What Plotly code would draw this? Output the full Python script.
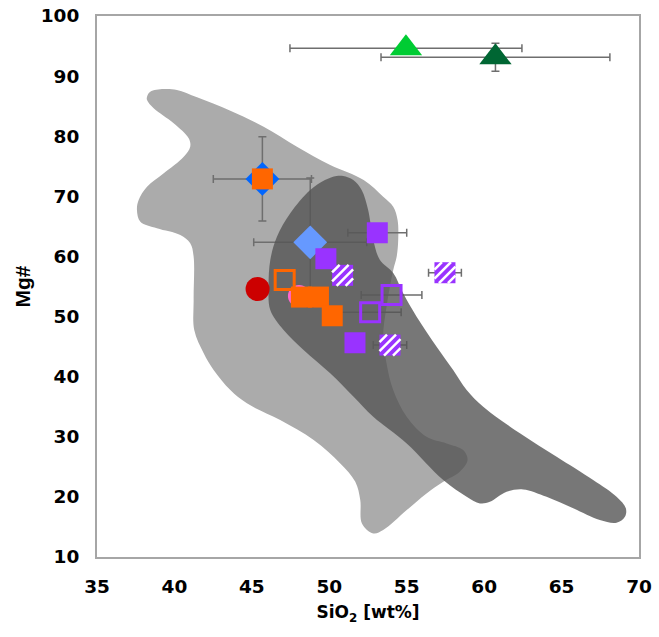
import plotly.graph_objects as go

# ---------------- data ----------------
# Field outlines (SiO2, Mg#)
fieldA_x = [38.23, 38.44, 39.31, 40.16, 41.46, 43.61, 45.76, 47.91, 50.06, 52.22, 53.48, 54.13,
            54.41, 54.45, 54.35, 54.13, 53.70, 53.48, 53.70, 54.13, 55.00, 56.28, 57.58, 58.65,
            58.93, 58.43, 57.36, 56.28, 55.00, 53.48, 52.84, 52.11, 52.00, 51.68, 50.71, 48.99,
            46.83, 44.68, 43.61, 42.53, 41.89, 41.28, 41.24, 41.24, 41.02, 40.38, 38.87, 37.80,
            37.58, 37.69, 38.23, 39.31, 40.60, 41.02, 40.92, 39.95, 38.66, 38.23]
fieldA_y = [86.57, 87.40, 87.85, 87.69, 86.47, 84.24, 81.58, 78.25, 75.21, 72.71, 69.93, 68.27,
            66.06, 62.73, 59.95, 57.74, 51.63, 46.64, 42.21, 37.77, 33.33, 30.00, 28.90, 27.79,
            26.12, 24.18, 22.51, 20.58, 17.80, 14.48, 13.93, 15.59, 19.47, 22.51, 25.57, 29.45,
            32.78, 35.56, 37.77, 41.10, 43.88, 47.75, 52.75, 59.95, 62.18, 63.56, 64.68, 65.77,
            67.72, 69.38, 71.60, 73.83, 76.59, 78.25, 79.65, 82.15, 84.64, 86.02]

fieldB_x = [50.47, 50.90, 51.55, 52.09, 52.51, 52.84, 53.27, 54.13, 54.77, 55.64, 56.93, 58.00,
            58.87, 59.94, 62.31, 64.68, 67.04, 68.55, 69.15, 69.09, 68.55, 67.47, 65.75, 64.03,
            62.52, 61.45, 60.37, 59.73, 58.87, 57.36, 55.00, 52.84, 51.57, 50.06, 48.34, 47.05,
            46.19, 46.08, 46.19, 46.62, 47.48, 48.77, 49.72]
fieldB_y = [73.38, 73.38, 72.71, 71.05, 67.72, 62.73, 59.40, 57.24, 53.86, 49.97, 44.98, 41.10,
            37.77, 34.99, 30.57, 26.67, 22.80, 20.02, 18.09, 16.69, 15.69, 16.14, 18.09, 20.02,
            21.25, 20.85, 19.18, 18.92, 20.02, 22.80, 28.90, 33.33, 36.66, 40.55, 44.43, 47.75,
            51.08, 54.96, 59.40, 63.28, 67.17, 71.05, 72.71]

# Samples
lgreen_x, lgreen_y, lgreen_ex = [54.95], [94.63], [7.49]
dgreen_x, dgreen_y, dgreen_ex, dgreen_ey = [60.73], [93.13], [7.39], [2.33]
blue_x, blue_y = [45.68], [72.9]
lblue_x, lblue_y, lblue_ex, lblue_ey = [48.77], [62.35], [3.65], [10.7]
pink_x, pink_y = [48.04], [53.41]
red_x, red_y = [45.37], [54.58]
orange_x = [45.68, 48.20, 49.30, 50.19]
orange_y = [72.9, 53.24, 53.24, 50.13]
orange_ex = [3.17, None, None, None]
orange_ey = [7.0, None, None, None]
orangeopen_x, orangeopen_y = [47.12], [56.07]
purple_x = [53.10, 49.78, 51.66]
purple_y = [63.94, 59.62, 45.64]
purple_ex = [1.9, None, None]
purpleopen_x = [54.02, 52.64]
purpleopen_y = [53.58, 50.70]
purpleopen_ex = [1.96, 2.0]
hatch_x = [50.86, 57.47, 53.92]
hatch_y = [56.86, 57.29, 45.26]
hatch_ex = [None, 1.06, 1.08]

x_ticks = [35, 40, 45, 50, 55, 60, 65, 70]
y_ticks = [10, 20, 30, 40, 50, 60, 70, 80, 90, 100]

# ---------------- style ----------------
ERR_COLOR = "#6E6E6E"
C_LGREEN = "#00CC33"
C_DGREEN = "#006633"
C_BLUE = "#0066FF"
C_LBLUE = "#6699FF"
C_PINK = "#FF66CC"
C_RED = "#CC0000"
C_ORANGE = "#FF6600"
C_PURPLE = "#9933FF"

fig = go.Figure()

# light grey field (bottom layer)
fig.add_trace(go.Scatter(x=fieldA_x + fieldA_x[:1], y=fieldA_y + fieldA_y[:1], mode="lines",
                         line=dict(width=0, shape="spline", smoothing=1.0),
                         fill="toself", fillcolor="#ABABAB", hoverinfo="skip", showlegend=False))


def err_trace(x, y, ex=None, ey=None):
    kw = {}
    if ex is not None:
        kw["error_x"] = dict(type="data", array=ex, visible=True, color=ERR_COLOR, thickness=1.5, width=4)
    if ey is not None:
        kw["error_y"] = dict(type="data", array=ey, visible=True, color=ERR_COLOR, thickness=1.5, width=4)
    return go.Scatter(x=x, y=y, mode="markers", marker=dict(size=1, color="rgba(0,0,0,0)"),
                      hoverinfo="skip", showlegend=False, **kw)


# error bars (under the dark translucent field)
fig.add_trace(err_trace(lgreen_x, lgreen_y, lgreen_ex, None))
fig.add_trace(err_trace(dgreen_x, dgreen_y, dgreen_ex, dgreen_ey))
fig.add_trace(err_trace(lblue_x, lblue_y, lblue_ex, lblue_ey))
fig.add_trace(err_trace(orange_x, orange_y, orange_ex, orange_ey))
fig.add_trace(err_trace(purple_x, purple_y, purple_ex, None))
fig.add_trace(err_trace(purpleopen_x, purpleopen_y, purpleopen_ex, None))
fig.add_trace(err_trace(hatch_x, hatch_y, hatch_ex, None))

# dark translucent field
fig.add_trace(go.Scatter(x=fieldB_x + fieldB_x[:1], y=fieldB_y + fieldB_y[:1], mode="lines",
                         line=dict(width=0, shape="spline", smoothing=1.0),
                         fill="toself", fillcolor="rgba(85,85,85,0.8)", hoverinfo="skip", showlegend=False))


def mk(x, y, symbol, size, color, lw=0, lcolor=None):
    return go.Scatter(x=x, y=y, mode="markers",
                      marker=dict(symbol=symbol, size=size, color=color,
                                  line=dict(width=lw, color=lcolor if lcolor else color)),
                      showlegend=False)


fig.add_trace(mk(lgreen_x, lgreen_y, "triangle-up", 28, C_LGREEN))
fig.add_trace(mk(dgreen_x, dgreen_y, "triangle-up", 28, C_DGREEN))
fig.add_trace(mk(blue_x, blue_y, "diamond", 26, C_BLUE))
fig.add_trace(mk(lblue_x, lblue_y, "diamond", 26, C_LBLUE))
fig.add_trace(mk(pink_x, pink_y, "circle", 22, C_PINK))
fig.add_trace(mk(red_x, red_y, "circle", 24, C_RED))
fig.add_trace(mk(orange_x, orange_y, "square", 21, C_ORANGE))
fig.add_trace(mk(orangeopen_x, orangeopen_y, "square-open", 19, C_ORANGE, lw=3))
fig.add_trace(mk(purple_x, purple_y, "square", 21, C_PURPLE))
fig.add_trace(mk(purpleopen_x, purpleopen_y, "square-open", 19, C_PURPLE, lw=3))
fig.add_trace(mk(hatch_x, hatch_y, "square", 21, C_PURPLE))

# white diagonal hatching on the hatched squares (pixel offsets anchored at the data point)
h = 10.5
shapes = []
for hx, hy in zip(hatch_x, hatch_y):
    for c in (-13.5, -4.5, 4.5, 13.5):
        if c >= 0:
            p0, p1 = (-h, -h + c), (h - c, h)
        else:
            p0, p1 = (-h - c, -h), (h, h + c)
        shapes.append(dict(type="line", xref="x", yref="y", xsizemode="pixel", ysizemode="pixel",
                           xanchor=hx, yanchor=hy, x0=p0[0], y0=p0[1], x1=p1[0], y1=p1[1],
                           line=dict(color="white", width=2.5)))

tick_font = dict(family="DejaVu Sans", size=18.5, color="black")

fig.update_layout(
    width=659, height=637,
    margin=dict(l=97, r=20, t=16, b=80, autoexpand=False),
    paper_bgcolor="white", plot_bgcolor="white",
    shapes=shapes,
    xaxis=dict(range=[35, 70], tickvals=x_ticks, ticktext=[f"<b>{v}</b>" for v in x_ticks],
               showgrid=False, zeroline=False, automargin=False,
               showline=True, mirror=True, linecolor="#A6A6A6", linewidth=2,
               ticks="", ticklabelstandoff=12, tickfont=tick_font,
               title=dict(text="<b>SiO<sub>2</sub> [wt%]</b>", standoff=10,
                          font=dict(family="DejaVu Sans", size=17, color="black"))),
    yaxis=dict(range=[10, 100], tickvals=y_ticks, ticktext=[f"<b>{v}</b>" for v in y_ticks],
               showgrid=False, zeroline=False, automargin=False,
               showline=True, mirror=True, linecolor="#A6A6A6", linewidth=2,
               ticks="", ticklabelstandoff=12, tickfont=tick_font,
               title=dict(text="<b>Mg#</b>", standoff=4,
                          font=dict(family="Liberation Sans", size=21, color="black"))),
)

fig.write_html("out.html")
